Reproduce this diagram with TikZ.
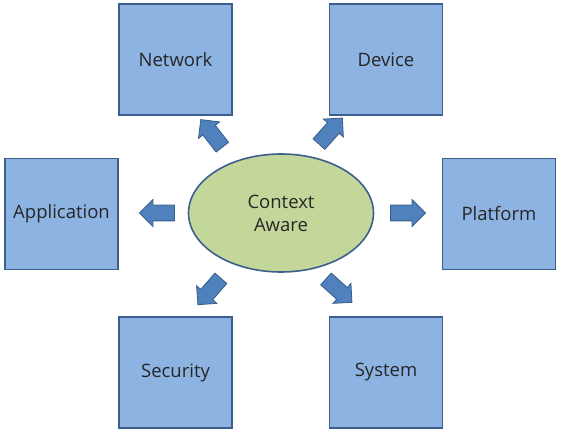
\documentclass[tikz,border=0pt]{standalone}
\usepackage{fontspec}
\setmainfont{Open Sans}
\usetikzlibrary{shapes.geometric, shapes.arrows}
\definecolor{boxfill}{HTML}{8DB3E2}
\definecolor{boxline}{HTML}{3C5F8E}
\definecolor{hubfill}{HTML}{C4D79B}
\definecolor{arrfill}{HTML}{4F81BD}
\definecolor{arrline}{HTML}{385D8A}

\begin{document}
\begin{tikzpicture}[x=1pt,y=1pt,
	area/.style={draw=boxline,fill=boxfill,line width=1.6pt,minimum width=113pt,minimum height=111pt,inner sep=0pt,text=black!85,font=\fontsize{18.5}{21}\selectfont},
	hub/.style={ellipse,draw=boxline,fill=hubfill,line width=1.6pt,minimum width=185pt,minimum height=118pt,inner sep=0pt,align=center,text=black!85,font=\fontsize{18.5}{23}\selectfont},
	fat/.style={single arrow,draw=arrline,fill=arrfill,line width=0.8pt,inner xsep=0pt,inner ysep=7.5pt,minimum height=35pt,single arrow head extend=5.5pt}]
	\useasboundingbox (0,0) rectangle (563,432);
	
	\coordinate (CA)  at (281,219);
	\coordinate (Net) at (175.5,372.5);
	\coordinate (Dev) at (386,372.5);
	\coordinate (App) at (61.5,218);
	\coordinate (Plt) at (499,218);
	\coordinate (Sec) at (175.5,59.5);
	\coordinate (Sys) at (386,59.5);
	
	\coordinate (aNet) at (214,295.5);
	\coordinate (aDev) at (328,298);
	\coordinate (aApp) at (161,219);
	\coordinate (aPlt) at (404,219);
	\coordinate (aSec) at (212,143.5);
	\coordinate (aSys) at (336,144);
	
	\node[hub]  (ctx)  at (CA)  {Context\\Aware};
	\node[area] (net)  at (Net) {Network};
	\node[area] (dev)  at (Dev) {Device};
	\node[area] (app)  at (App) {Application};
	\node[area] (plt)  at (Plt) {Platform};
	\node[area] (sec)  at (Sec) {Security};
	\node[area] (sys)  at (Sys) {System};
	
	\node[fat,rotate=128] (toNet) at (aNet) {};
	\node[fat,rotate=48]  (toDev) at (aDev) {};
	\node[fat,rotate=180] (toApp) at (aApp) {};
	\node[fat,rotate=0]   (toPlt) at (aPlt) {};
	\node[fat,rotate=229] (toSec) at (aSec) {};
	\node[fat,rotate=-42] (toSys) at (aSys) {};
\end{tikzpicture}
\end{document}
